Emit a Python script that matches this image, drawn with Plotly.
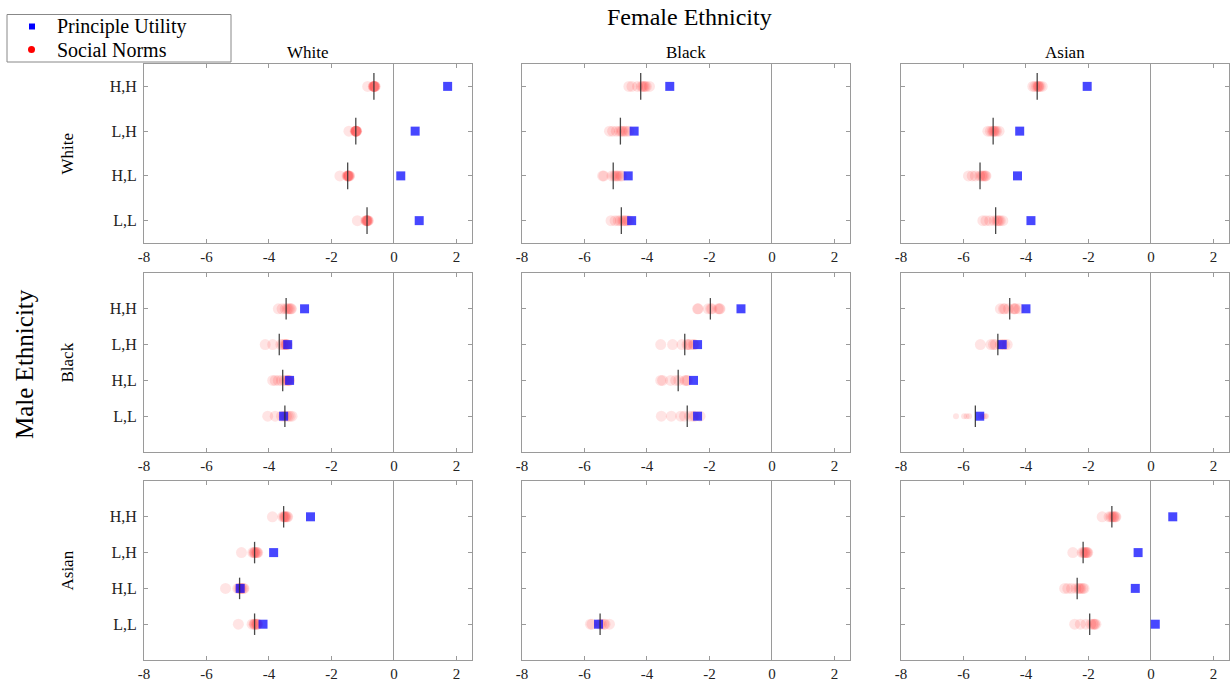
import plotly.graph_objects as go

# ---- data -------------------------------------------------------------
ethnicities = ["White", "Black", "Asian"]          # male (rows) / female (cols)
categories = ["H,H", "L,H", "H,L", "L,L"]          # top to bottom
tick_vals = [-8, -6, -4, -2, 0, 2]
tick_text = ["-8", "-6", "-4", "-2", "0", "2"]
series_names = ["Principle Utility", "Social Norms"]

# principle utility per [male][female] cell, one value per category
principle_utility = [
    [[1.72, 0.68, 0.22, 0.81], [-3.27, -4.41, -4.60, -4.49], [-2.04, -4.20, -4.27, -3.84]],
    [[-2.86, -3.40, -3.34, -3.53], [-0.99, -2.38, -2.51, -2.38], [-4.00, -4.76, None, -5.48]],
    [[-2.67, -3.85, -4.92, -4.19], [None, None, None, -5.55], [0.70, -0.41, -0.50, 0.14]],
]

# central social-norms estimate (vertical bar)
norm_center = [
    [[-0.64, -1.22, -1.48, -0.86], [-4.20, -4.85, -5.08, -4.82], [-3.64, -5.05, -5.47, -4.97]],
    [[-3.45, -3.67, -3.56, -3.49], [-1.97, -2.79, -3.00, -2.71], [-4.52, -4.90, None, -5.62]],
    [[-3.53, -4.46, -4.94, -4.46], [None, None, None, -5.50], [-1.25, -2.17, -2.36, -1.96]],
]

# individual social-norms estimates (translucent dots)
norm_draws = [
    [
        [[-0.84, -0.66, -0.64, -0.62, -0.61, -0.60, -0.63, -0.65],
         [-1.44, -1.24, -1.22, -1.21, -1.20, -1.19, -1.22, -1.21],
         [-1.73, -1.50, -1.47, -1.45, -1.43, -1.42, -1.46, -1.48],
         [-1.17, -0.90, -0.87, -0.85, -0.83, -0.82, -0.86, -0.88]],
        [[-4.58, -4.48, -4.30, -4.18, -4.14, -4.10, -4.06, -4.02, -3.92],
         [-5.20, -5.10, -4.98, -4.88, -4.82, -4.78, -4.72, -4.66, -4.58],
         [-5.42, -5.38, -5.12, -5.05, -5.00, -4.96, -4.92, -4.85, -4.80],
         [-5.15, -5.02, -4.92, -4.85, -4.78, -4.74, -4.70, -4.64, -4.58]],
        [[-3.78, -3.72, -3.66, -3.62, -3.60, -3.58, -3.54, -3.48],
         [-5.22, -5.14, -5.08, -5.04, -5.02, -4.98, -4.94, -4.86],
         [-5.84, -5.72, -5.62, -5.48, -5.42, -5.38, -5.34, -5.30, -5.28],
         [-5.38, -5.28, -5.16, -5.02, -4.94, -4.90, -4.86, -4.82, -4.74]],
    ],
    [
        [[-3.70, -3.58, -3.48, -3.42, -3.38, -3.34, -3.30, -3.28],
         [-4.12, -3.88, -3.62, -3.56, -3.50, -3.46, -3.44, -3.42],
         [-3.88, -3.80, -3.70, -3.60, -3.50, -3.44, -3.40, -3.36, -3.34],
         [-4.04, -3.80, -3.60, -3.52, -3.44, -3.38, -3.32, -3.26]],
        [[-2.38, -2.36, -2.04, -1.96, -1.92, -1.72, -1.68, -1.66],
         [-3.56, -3.18, -2.88, -2.72, -2.68, -2.64, -2.52, -2.48],
         [-3.56, -3.50, -3.24, -3.08, -2.98, -2.78, -2.74, -2.70],
         [-3.54, -3.22, -2.92, -2.80, -2.64, -2.52, -2.46, -2.30]],
        [[-4.82, -4.72, -4.68, -4.56, -4.40, -4.36, -4.34, -4.22],
         [-5.46, -5.12, -5.04, -4.98, -4.82, -4.74, -4.68, -4.60],
         [],
         [-6.24, -5.98, -5.90, -5.82, -5.44, -5.38, -5.32, -5.28]],
    ],
    [
        [[-3.89, -3.56, -3.52, -3.48, -3.46, -3.42, -3.40, -3.50],
         [-4.88, -4.52, -4.46, -4.44, -4.40, -4.38, -4.36, -4.48],
         [-5.39, -5.00, -4.96, -4.92, -4.90, -4.86, -4.82, -4.80],
         [-4.98, -4.54, -4.48, -4.44, -4.40, -4.38, -4.36, -4.46]],
        [[], [], [],
         [-5.81, -5.76, -5.52, -5.46, -5.38, -5.34, -5.20]],
        [[-1.56, -1.34, -1.28, -1.24, -1.20, -1.18, -1.14, -1.12],
         [-2.50, -2.20, -2.16, -2.12, -2.10, -2.06, -2.04, -2.02],
         [-2.76, -2.66, -2.54, -2.40, -2.32, -2.28, -2.24, -2.18, -2.14],
         [-2.44, -2.26, -2.08, -1.92, -1.86, -1.82, -1.80, -1.76]],
    ],
]

# dot diameter per cell (the Black/Asian L,L cell is drawn smaller)
dot_size = [
    [[11, 11, 11, 11], [11, 11, 11, 11], [11, 11, 11, 11]],
    [[11, 11, 11, 11], [11, 11, 11, 11], [11, 11, 11, 6]],
    [[11, 11, 11, 11], [11, 11, 11, 11], [11, 11, 11, 11]],
]

# ---- layout geometry (pixels) ----------------------------------------
W, H = 1231, 685
col_left = [144, 522, 901]
panel_w = 328
row_top = [64, 273, 481]
panel_h = 179
row_yrange = [[0.5, 4.5], [0, 5], [0, 5]]
FONT = "Liberation Serif"
AXIS_GREY = "#9a9a9a"
PU_COLOR = "rgba(0,0,255,0.72)"
SN_COLOR = "rgba(255,0,0,0.15)"


def px(x):
    return x / W


def py(y):
    return 1 - y / H


fig = go.Figure()
layout_axes = {}

for m in range(3):
    for f in range(3):
        k = m * 3 + f + 1
        xa = "x" if k == 1 else f"x{k}"
        ya = "y" if k == 1 else f"y{k}"
        ypos = [len(categories) - i for i in range(len(categories))]

        # translucent social-norms dots
        dx, dy, ds = [], [], []
        for i, draws in enumerate(norm_draws[m][f]):
            for v in draws:
                dx.append(v)
                dy.append(ypos[i])
                ds.append(dot_size[m][f][i])
        fig.add_trace(go.Scatter(
            x=dx, y=dy, mode="markers", xaxis=xa, yaxis=ya,
            name=series_names[1], showlegend=False,
            marker=dict(symbol="circle", size=ds, color=SN_COLOR, line=dict(width=0)),
            hoverinfo="x"))

        # principle-utility squares
        px_, py_ = [], []
        for i, v in enumerate(principle_utility[m][f]):
            if v is not None:
                px_.append(v)
                py_.append(ypos[i])
        fig.add_trace(go.Scatter(
            x=px_, y=py_, mode="markers", xaxis=xa, yaxis=ya,
            name=series_names[0], showlegend=False,
            marker=dict(symbol="square", size=9, color=PU_COLOR, line=dict(width=0)),
            hoverinfo="x"))

        # vertical bars at the central social-norms estimate
        lx, ly = [], []
        for i, v in enumerate(norm_center[m][f]):
            if v is not None:
                lx += [v, v, None]
                ly += [ypos[i] - 0.3, ypos[i] + 0.3, None]
        fig.add_trace(go.Scatter(
            x=lx, y=ly, mode="lines", xaxis=xa, yaxis=ya, showlegend=False,
            line=dict(color="rgba(40,40,40,0.85)", width=1.3), hoverinfo="skip"))

        xkey = "xaxis" if k == 1 else f"xaxis{k}"
        ykey = "yaxis" if k == 1 else f"yaxis{k}"
        layout_axes[xkey] = dict(
            domain=[px(col_left[f]), px(col_left[f] + panel_w)], anchor=ya,
            range=[-8, 2.5],
            tickvals=tick_vals, ticktext=tick_text, ticks="inside", ticklen=4,
            tickcolor=AXIS_GREY, showline=True, linecolor=AXIS_GREY, linewidth=1,
            mirror="ticks", showgrid=False, zeroline=True, zerolinecolor=AXIS_GREY,
            zerolinewidth=1, tickfont=dict(family=FONT, size=15, color="#222"),
            automargin=False, fixedrange=True)
        layout_axes[ykey] = dict(
            domain=[py(row_top[m] + panel_h), py(row_top[m])], anchor=xa,
            range=row_yrange[m],
            tickvals=ypos, ticktext=categories, ticks="inside", ticklen=4,
            tickcolor=AXIS_GREY, showline=True, linecolor=AXIS_GREY, linewidth=1,
            mirror="ticks", showgrid=False, zeroline=False,
            showticklabels=(f == 0), ticklabelstandoff=3,
            tickfont=dict(family=FONT, size=16, color="#222"),
            automargin=False, fixedrange=True)

annotations = [
    dict(text="Female Ethnicity", x=px(690), y=py(17), xref="paper", yref="paper",
         showarrow=False, font=dict(family=FONT, size=24, color="black"),
         xanchor="center", yanchor="middle"),
    dict(text="Male Ethnicity", x=px(24), y=py(364), xref="paper", yref="paper",
         showarrow=False, textangle=-90, font=dict(family=FONT, size=25, color="black"),
         xanchor="center", yanchor="middle"),
]
for f, name in enumerate(ethnicities):
    annotations.append(dict(
        text=name, x=px(col_left[f] + panel_w / 2), y=py(52),
        xref="paper", yref="paper", showarrow=False,
        font=dict(family=FONT, size=17, color="black"),
        xanchor="center", yanchor="middle"))
for m, name in enumerate(ethnicities):
    annotations.append(dict(
        text=name, x=px(67), y=py(row_top[m] + panel_h / 2),
        xref="paper", yref="paper", showarrow=False, textangle=-90,
        font=dict(family=FONT, size=17, color="black"),
        xanchor="center", yanchor="middle"))

# key box: frame, symbols and labels
legend_rows = [26.5, 49.5]
shapes = [dict(type="rect", xref="paper", yref="paper",
               x0=px(7), x1=px(231), y0=py(62), y1=py(14.5),
               line=dict(color="#888", width=1), fillcolor="white", layer="above")]
shapes.append(dict(type="rect", xref="paper", yref="paper",
                   x0=px(29), x1=px(35), y0=py(legend_rows[0] + 3), y1=py(legend_rows[0] - 3),
                   line=dict(width=0), fillcolor="#0000ff", layer="above"))
shapes.append(dict(type="circle", xref="paper", yref="paper",
                   x0=px(28), x1=px(35), y0=py(legend_rows[1] + 3.5), y1=py(legend_rows[1] - 3.5),
                   line=dict(width=0), fillcolor="#ff0000", layer="above"))
for name, yc in zip(series_names, legend_rows):
    annotations.append(dict(
        text=name, x=px(55), y=py(yc), xref="paper", yref="paper", showarrow=False,
        font=dict(family=FONT, size=20, color="black"),
        xanchor="left", yanchor="middle"))

fig.update_layout(
    width=W, height=H,
    margin=dict(l=0, r=0, t=0, b=0, pad=0, autoexpand=False),
    font=dict(family=FONT, color="black"),
    paper_bgcolor="white", plot_bgcolor="white",
    showlegend=False,
    annotations=annotations,
    shapes=shapes,
    **layout_axes,
)

fig.write_html("out.html")
